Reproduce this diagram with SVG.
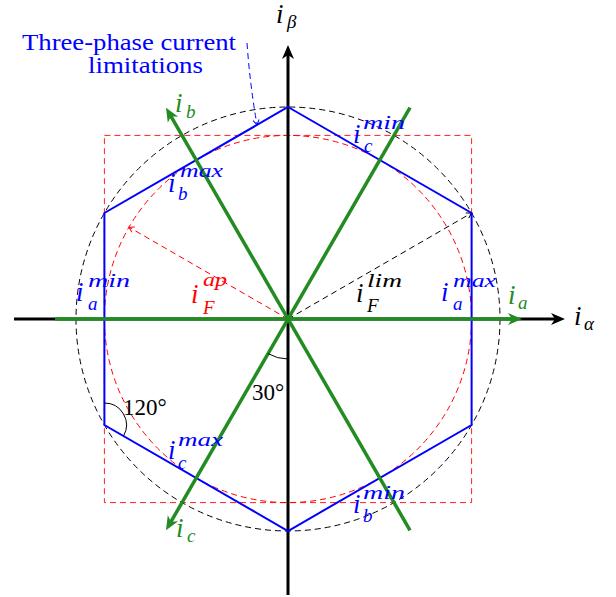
<svg xmlns="http://www.w3.org/2000/svg" width="616" height="597" viewBox="0 0 616 597">
<style>
.m{font-family:"Liberation Serif","Times New Roman",serif;font-style:italic;font-size:27px}
.t{font-family:"Liberation Serif","Times New Roman",serif}
.s{font-size:19px}
.blue{fill:#0000ff}
.green{fill:#228b22}
.red{fill:#ff0000}
.blk{fill:#000}
.dash{fill:none;stroke-width:1;stroke-dasharray:6,4}
</style>
<defs>
<marker id="ak" markerUnits="userSpaceOnUse" markerWidth="15" markerHeight="13" refX="6" refY="6" orient="auto" viewBox="0 0 15 12"><path d="M0,0 L14,6 L0,12 L4,6 z" fill="#000"/></marker>
<marker id="ag" markerUnits="userSpaceOnUse" markerWidth="15" markerHeight="13" refX="6" refY="6" orient="auto" viewBox="0 0 15 12"><path d="M0,0 L14,6 L0,12 L4,6 z" fill="#228b22"/></marker>
<marker id="sk" markerUnits="userSpaceOnUse" markerWidth="8" markerHeight="8" refX="6" refY="4" orient="auto" viewBox="0 0 8 8"><path d="M1,1 Q4,3 6,4 Q4,5 1,7" fill="none" stroke="#000" stroke-width="1"/></marker>
<marker id="sr" markerUnits="userSpaceOnUse" markerWidth="8" markerHeight="8" refX="6" refY="4" orient="auto" viewBox="0 0 8 8"><path d="M1,1 Q4,3 6,4 Q4,5 1,7" fill="none" stroke="#ff0000" stroke-width="1"/></marker>
<marker id="sb" markerUnits="userSpaceOnUse" markerWidth="8" markerHeight="8" refX="6" refY="4" orient="auto" viewBox="0 0 8 8"><path d="M1,1 Q4,3 6,4 Q4,5 1,7" fill="none" stroke="#0000ff" stroke-width="1"/></marker>
</defs>

<g id="limit-shapes">
<rect id="square" x="104.4" y="135.4" width="367.2" height="367.2" class="dash" stroke="#ff2020"/>
<circle id="inner-circle" cx="288" cy="319" r="183.6" class="dash" stroke="#ff0000"/>
<circle id="outer-circle" cx="288" cy="319" r="212" class="dash" stroke="#000"/>
</g>

<g id="connectors">
<line x1="288" y1="319" x2="471.6" y2="213" class="dash" stroke="#000" marker-end="url(#sk)"/>
<line x1="288" y1="319" x2="129" y2="227.2" class="dash" stroke="#ff0000" marker-end="url(#sr)"/>
<path d="M247,43 Q250,85 257,125" class="dash" stroke="#0000ff" marker-end="url(#sb)"/>
</g>

<g id="axes">
<line x1="14" y1="319" x2="557" y2="319" stroke="#000" stroke-width="3" marker-end="url(#ak)"/>
<line x1="288" y1="595" x2="288" y2="53" stroke="#000" stroke-width="3" marker-end="url(#ak)"/>
</g>

<g id="hexagon">
<polygon points="288,107 471.6,213 471.6,425 288,531 104.4,425 104.4,213" fill="none" stroke="#0000ff" stroke-width="2"/>
</g>

<g id="phase-axes">
<line x1="55" y1="319" x2="514" y2="319" stroke="#228b22" stroke-width="3.5" marker-end="url(#ag)"/>
<line x1="410" y1="530.3" x2="170" y2="114.6" stroke="#228b22" stroke-width="3.5" marker-end="url(#ag)"/>
<line x1="410" y1="107.7" x2="170" y2="523.4" stroke="#228b22" stroke-width="3.5" marker-end="url(#ag)"/>
</g>

<g id="angles">
<path d="M104.4,403 A22,22 0 0 1 123.5,436" fill="none" stroke="#000" stroke-width="1"/>
<path d="M288,359 A40,40 0 0 1 268,353.6" fill="none" stroke="#000" stroke-width="1"/>
<text class="t" x="123" y="415" font-size="23">120°</text>
<text class="t" x="252" y="400" font-size="23">30°</text>
</g>

<g id="axis-labels">
<text class="m blk" x="276" y="23">i<tspan class="s" x="287" y="28">β</tspan></text>
<text class="m blk" x="574" y="325">i<tspan class="s" x="584" y="330">α</tspan></text>
<text class="m green" x="508" y="304">i<tspan class="s" x="518" y="309">a</tspan></text>
<text class="m green" x="175" y="112">i<tspan class="s" x="186" y="118">b</tspan></text>
<text class="m green" x="176" y="537">i<tspan class="s" x="187" y="542">c</tspan></text>
</g>

<g id="limit-labels">
<text class="m blue" x="441" y="301">i<tspan class="s" x="453" y="287" textLength="43" lengthAdjust="spacingAndGlyphs">max</tspan><tspan class="s" x="453" y="310">a</tspan></text>
<text class="m blue" x="76" y="301">i<tspan class="s" x="88" y="287" textLength="42" lengthAdjust="spacingAndGlyphs">min</tspan><tspan class="s" x="88" y="310">a</tspan></text>
<text class="m blue" x="168" y="192">i<tspan class="s" x="180" y="177" textLength="43" lengthAdjust="spacingAndGlyphs">max</tspan><tspan class="s" x="178" y="200">b</tspan></text>
<text class="m blue" x="168" y="459">i<tspan class="s" x="178" y="446" textLength="45" lengthAdjust="spacingAndGlyphs">max</tspan><tspan class="s" x="178" y="469">c</tspan></text>
<text class="m blue" x="353" y="143">i<tspan class="s" x="363" y="129" textLength="42" lengthAdjust="spacingAndGlyphs">min</tspan><tspan class="s" x="364" y="152">c</tspan></text>
<text class="m blue" x="353" y="513">i<tspan class="s" x="363" y="499" textLength="42" lengthAdjust="spacingAndGlyphs">min</tspan><tspan class="s" x="363" y="522">b</tspan></text>
<text class="m red" x="191" y="303">i<tspan class="s" x="203" y="286" textLength="24" lengthAdjust="spacingAndGlyphs">ap</tspan><tspan class="s" x="203" y="314">F</tspan></text>
<text class="m blk" x="356" y="302">i<tspan class="s" x="367" y="287" textLength="35" lengthAdjust="spacingAndGlyphs">lim</tspan><tspan class="s" x="367" y="312">F</tspan></text>
</g>

<g id="callout">
<text class="t blue" x="22" y="50" font-size="24"><tspan x="22" y="50" textLength="214" lengthAdjust="spacingAndGlyphs">Three-phase current</tspan><tspan x="88" y="73" textLength="115" lengthAdjust="spacingAndGlyphs">limitations</tspan></text>
</g>
</svg>
